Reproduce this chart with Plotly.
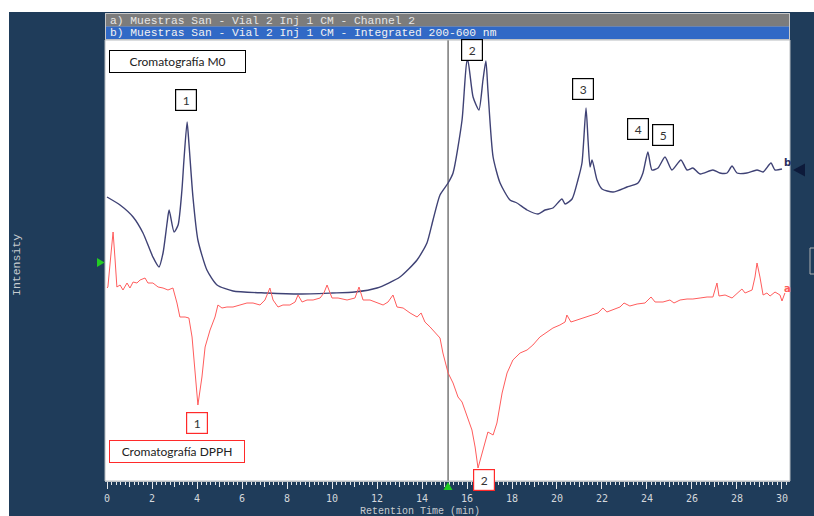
import plotly.graph_objects as go

# ---------------- data ----------------
# trace b : "Integrated 200-600 nm" (Cromatografía M0), navy
b_time = [0.0, 0.58, 1.16, 1.6, 2.04, 2.31, 2.49, 2.67, 2.76, 2.98, 3.16, 3.33, 3.42, 3.56,
          3.64, 3.82, 4.04, 4.44, 4.89, 5.6, 7.1, 8.58, 10.0, 11.0, 12.0, 13.02, 13.78,
          14.22, 14.49, 14.8, 15.16, 15.38, 15.78, 16.0, 16.04, 16.27, 16.53, 16.71, 16.84,
          16.93, 17.16, 17.47, 17.91, 18.22, 18.67, 19.16, 19.47, 19.82, 20.22, 20.36, 20.67,
          20.93, 21.11, 21.29, 21.38, 21.47, 21.56, 21.78, 22.0, 22.49, 23.11, 23.6, 23.82,
          24.04, 24.22, 24.49, 24.8, 25.11, 25.51, 25.78, 26.04, 26.36, 26.93, 27.24, 27.56,
          27.78, 28.0, 28.44, 28.89, 29.16, 29.51, 29.69, 30.0]
b_int = [283, 275, 263, 247, 223, 213, 227, 257, 270, 248, 255, 290, 320, 358,
         337, 283, 240, 210, 195, 189, 187, 186, 187, 188, 192, 203, 220,
         237, 260, 285, 297, 307, 360, 419, 419, 383, 370, 400, 419,
         390, 323, 297, 280, 277, 270, 266, 270, 272, 281, 276, 281,
         300, 317, 372, 340, 313, 320, 300, 291, 288, 293, 297, 307,
         328, 310, 312, 323, 310, 320, 310, 312, 306, 310, 307, 307,
         314, 307, 307, 310, 308, 317, 310, 311]

# trace a : "Channel 2" (Cromatografía DPPH), red
a_time = [0.0, 0.04, 0.18, 0.27, 0.36, 0.44, 0.58, 0.71, 0.89, 1.02, 1.16, 1.33, 1.47, 1.69,
          1.82, 2.04, 2.27, 2.49, 2.71, 2.93, 3.11, 3.24, 3.47, 3.64, 3.78, 3.91, 4.04, 4.22,
          4.36, 4.58, 4.8, 4.93, 5.11, 5.33, 5.6, 5.91, 6.22, 6.49, 6.8, 7.02, 7.24, 7.38,
          7.6, 7.82, 8.13, 8.36, 8.49, 8.67, 8.89, 9.16, 9.47, 9.64, 9.78, 10.0, 10.27,
          10.67, 11.02, 11.2, 11.38, 11.69, 12.0, 12.27, 12.49, 12.71, 12.89, 13.16, 13.47,
          13.78, 13.96, 14.13, 14.36, 14.58, 14.8, 14.93, 15.16, 15.38, 15.6, 15.78, 16.0,
          16.22, 16.36, 16.49, 16.71, 16.93, 17.16, 17.33, 17.56, 17.78, 18.04, 18.36, 18.67,
          18.93, 19.24, 19.56, 19.82, 20.13, 20.36, 20.44, 20.62, 20.89, 21.24, 21.56, 21.82,
          22.04, 22.22, 22.49, 22.8, 22.98, 23.24, 23.56, 23.91, 24.18, 24.36, 24.71, 25.02,
          25.2, 25.47, 25.78, 26.04, 26.36, 26.67, 26.93, 27.11, 27.2, 27.47, 27.78, 28.0,
          28.22, 28.36, 28.67, 28.8, 28.89, 29.02, 29.16, 29.33, 29.47, 29.69, 29.91, 30.0,
          30.13]
a_int = [192, 193, 227, 248, 220, 193, 195, 190, 197, 192, 198, 197, 200, 202,
         197, 197, 193, 192, 190, 192, 177, 163, 163, 162, 143, 110, 75, 103,
         133, 150, 163, 175, 172, 173, 173, 175, 177, 177, 175, 180, 192, 180,
         173, 175, 175, 178, 185, 178, 180, 180, 182, 187, 195, 182, 182,
         180, 182, 193, 180, 180, 177, 175, 178, 185, 173, 172, 167,
         163, 167, 158, 153, 147, 142, 127, 107, 97, 83, 78, 63,
         50, 33, 12, 30, 48, 45, 57, 87, 107, 120, 127, 130,
         135, 143, 148, 152, 155, 158, 165, 158, 160, 163, 165, 167,
         172, 168, 170, 173, 177, 174, 176, 177, 183, 178, 178, 180,
         177, 180, 181, 181, 182, 183, 183, 197, 184, 185, 182, 187,
         191, 187, 190, 203, 217, 203, 185, 187, 184, 188, 185, 179,
         187]

x_ticks = [0, 2, 4, 6, 8, 10, 12, 14, 16, 18, 20, 22, 24, 26, 28, 30]
cursor_time = 15.16

# peak labels: text, x (min), y (intensity), colour
peak_text = ["1", "2", "3", "4", "5", "1", "2"]
peak_x = [3.53, 16.24, 21.16, 23.62, 24.73, 4.02, 16.76]
peak_y = [380, 430, 391, 351, 345, 57, 0]
peak_col = ["#000000"] * 5 + ["#ff2a2a"] * 2

# ---------------- layout helpers ----------------
W, H = 814, 516
L, R, T, B = 105, 24, 40, 35
PW, PH = W - L - R, H - T - B
def px(x):
    return (x - L) / PW
def py(y):
    return (H - B - y) / PH
def tri(points):
    return "M " + " L ".join(f"{px(a):.5f},{py(b):.5f}" for a, b in points) + " Z"

NAVY = "#1f3c5a"
fig = go.Figure()

fig.add_trace(go.Scatter(x=b_time, y=b_int, mode="lines",
                         line=dict(color="#3f4275", width=1.4, shape="spline", smoothing=0.6),
                         showlegend=False, hoverinfo="skip"))
fig.add_trace(go.Scatter(x=a_time, y=a_int, mode="lines",
                         line=dict(color="#ff5c5c", width=1), showlegend=False,
                         hoverinfo="skip"))
fig.add_trace(go.Scatter(x=[None], y=[None], xaxis="x2", showlegend=False,
                         hoverinfo="skip"))

shapes = [
    # white outer margins
    dict(type="rect", xref="paper", yref="paper", x0=px(0), x1=px(W), y0=py(12), y1=py(0),
         fillcolor="white", line=dict(width=0), layer="above"),
    dict(type="rect", xref="paper", yref="paper", x0=px(0), x1=px(9), y0=py(H), y1=py(0),
         fillcolor="white", line=dict(width=0), layer="above"),
    # header bar
    dict(type="rect", xref="paper", yref="paper", x0=px(105), x1=px(790), y0=py(40), y1=py(13),
         fillcolor="#c8c8c8", line=dict(width=0), layer="above"),
    dict(type="rect", xref="paper", yref="paper", x0=px(106), x1=px(789), y0=py(26.5), y1=py(14),
         fillcolor="#7c7c7c", line=dict(width=0), layer="above"),
    dict(type="rect", xref="paper", yref="paper", x0=px(106), x1=px(789), y0=py(39), y1=py(26.5),
         fillcolor="#3169c6", line=dict(width=0), layer="above"),
    # plot border
    dict(type="rect", xref="paper", yref="paper", x0=0, x1=1, y0=0, y1=1,
         line=dict(color="#b8bcc0", width=1), layer="above"),
    # cursor line
    dict(type="line", xref="x", yref="paper", x0=cursor_time, x1=cursor_time, y0=0, y1=1,
         line=dict(color="#808080", width=1.6), layer="below"),
    # small widget on the right edge
    dict(type="rect", xref="paper", yref="paper", x0=px(810), x1=px(816), y0=py(274), y1=py(248),
         line=dict(color="#b0b0b0", width=1), fillcolor=NAVY, layer="above"),
    # indicator triangles
    dict(type="path", xref="paper", yref="paper",
         path=tri([(443.5, 490), (452.5, 490), (448, 482)]),
         fillcolor="#22cc22", line=dict(width=0), layer="above"),
    dict(type="path", xref="paper", yref="paper",
         path=tri([(97, 258), (97, 267), (104.5, 262.5)]),
         fillcolor="#22cc22", line=dict(width=0), layer="above"),
    dict(type="path", xref="paper", yref="paper",
         path=tri([(805, 163.5), (805, 176.5), (793, 170)]),
         fillcolor="#0d1a3a", line=dict(width=0), layer="above"),
]

annotations = [
    dict(text="a) Muestras San - Vial 2 Inj 1 CM - Channel 2", xref="paper", yref="paper",
         x=px(108), y=py(20.5), xanchor="left", yanchor="middle", showarrow=False,
         font=dict(family="Liberation Mono", size=11.3, color="#e6e6e6")),
    dict(text="b) Muestras San - Vial 2 Inj 1 CM - Integrated 200-600 nm", xref="paper",
         yref="paper", x=px(108), y=py(33), xanchor="left", yanchor="middle", showarrow=False,
         font=dict(family="Liberation Mono", size=11.3, color="#f2f2f2")),
    dict(text="Cromatografía M0", xref="paper", yref="paper", x=px(177.5), y=py(62),
         xanchor="center", yanchor="middle", showarrow=False, width=133, height=19,
         bordercolor="#000000", borderwidth=1, borderpad=1, bgcolor="white",
         font=dict(family="Lato", size=12, color="#222222")),
    dict(text="Cromatografía DPPH", xref="paper", yref="paper", x=px(176.5), y=py(451.5),
         xanchor="center", yanchor="middle", showarrow=False, width=132, height=19,
         bordercolor="#ff2a2a", borderwidth=1, borderpad=1, bgcolor="white",
         font=dict(family="Lato", size=12, color="#222222")),
    dict(text="Intensity", xref="paper", yref="paper", x=px(16), y=py(265),
         xanchor="center", yanchor="middle", showarrow=False, textangle=-90,
         font=dict(family="Liberation Mono", size=11.5, color="#c8ccd0")),
    dict(text="Retention Time (min)", xref="paper", yref="paper", x=px(420), y=py(504),
         xanchor="center", yanchor="top", showarrow=False,
         font=dict(family="Liberation Mono", size=10, color="#c8ccd0")),
    dict(text="<b>b</b>", xref="paper", yref="paper", x=px(787.5), y=py(162),
         xanchor="center", yanchor="middle", showarrow=False,
         font=dict(family="DejaVu Sans", size=10, color="#2a2d5e")),
    dict(text="<b>a</b>", xref="paper", yref="paper", x=px(787), y=py(288),
         xanchor="center", yanchor="middle", showarrow=False,
         font=dict(family="DejaVu Sans", size=10, color="#ff5c5c")),
]
for t, xv, yv, c in zip(peak_text, peak_x, peak_y, peak_col):
    annotations.append(dict(text=t, x=xv, y=yv, xref="x", yref="y", showarrow=False,
                            xanchor="center", yanchor="middle", width=18, height=18,
                            bordercolor=c, borderwidth=1.2, borderpad=1, bgcolor="white",
                            font=dict(family="Lato", size=12, color="#333333")))

fig.update_layout(
    width=W, height=H,
    margin=dict(l=L, r=R, t=T, b=B, pad=0),
    paper_bgcolor=NAVY, plot_bgcolor="white",
    showlegend=False,
    shapes=shapes, annotations=annotations,
    xaxis=dict(range=[-0.089, 30.356], tickvals=x_ticks, ticktext=[str(v) for v in x_ticks],
               ticks="outside", ticklen=7, tickwidth=1, tickcolor="#e4e6e8",
               ticklabelstandoff=1,
               minor=dict(dtick=0.2, ticks="outside", ticklen=3, tickcolor="#e4e6e8",
                          showgrid=False),
               showgrid=False, zeroline=False, showline=True, linecolor="#c0c4c8",
               linewidth=1, tickfont=dict(family="DejaVu Sans Mono", size=10,
                                          color="#d4d8dc")),
    xaxis2=dict(range=[-0.089, 30.356], overlaying="x", anchor="y", side="bottom",
                dtick=1, tick0=0, ticks="outside", ticklen=5, tickcolor="#e4e6e8",
                showticklabels=False, showgrid=False, zeroline=False, showline=False),
    yaxis=dict(range=[-1, 440], visible=False, showgrid=False, zeroline=False),
)

fig.write_html("out.html")
